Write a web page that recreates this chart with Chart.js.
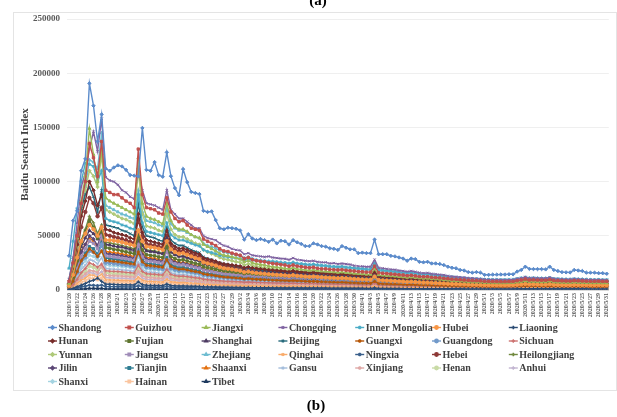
<!DOCTYPE html>
<html>
<head>
<meta charset="utf-8">
<script src="https://cdn.jsdelivr.net/npm/chart.js@4.4.1/dist/chart.umd.min.js"></script>
<style>
  html, body { margin: 0; padding: 0; background: #ffffff; }
  #wrap { position: relative; width: 617px; height: 417px; }
  canvas { display: block; }
</style>
</head>
<body>
<div id="wrap"><canvas id="chart" width="617" height="417"></canvas></div>
<script>
// Daily dates, 2020/1/20 to 2020/5/31
const dates = [
  '2020/1/20','2020/1/21','2020/1/22','2020/1/23','2020/1/24','2020/1/25','2020/1/26','2020/1/27','2020/1/28','2020/1/29','2020/1/30','2020/1/31',
  '2020/2/1','2020/2/2','2020/2/3','2020/2/4','2020/2/5','2020/2/6','2020/2/7','2020/2/8','2020/2/9','2020/2/10','2020/2/11','2020/2/12','2020/2/13','2020/2/14','2020/2/15','2020/2/16','2020/2/17','2020/2/18','2020/2/19','2020/2/20','2020/2/21','2020/2/22','2020/2/23','2020/2/24','2020/2/25','2020/2/26','2020/2/27','2020/2/28','2020/2/29',
  '2020/3/1','2020/3/2','2020/3/3','2020/3/4','2020/3/5','2020/3/6','2020/3/7','2020/3/8','2020/3/9','2020/3/10','2020/3/11','2020/3/12','2020/3/13','2020/3/14','2020/3/15','2020/3/16','2020/3/17','2020/3/18','2020/3/19','2020/3/20','2020/3/21','2020/3/22','2020/3/23','2020/3/24','2020/3/25','2020/3/26','2020/3/27','2020/3/28','2020/3/29','2020/3/30','2020/3/31',
  '2020/4/1','2020/4/2','2020/4/3','2020/4/4','2020/4/5','2020/4/6','2020/4/7','2020/4/8','2020/4/9','2020/4/10','2020/4/11','2020/4/12','2020/4/13','2020/4/14','2020/4/15','2020/4/16','2020/4/17','2020/4/18','2020/4/19','2020/4/20','2020/4/21','2020/4/22','2020/4/23','2020/4/24','2020/4/25','2020/4/26','2020/4/27','2020/4/28','2020/4/29','2020/4/30',
  '2020/5/1','2020/5/2','2020/5/3','2020/5/4','2020/5/5','2020/5/6','2020/5/7','2020/5/8','2020/5/9','2020/5/10','2020/5/11','2020/5/12','2020/5/13','2020/5/14','2020/5/15','2020/5/16','2020/5/17','2020/5/18','2020/5/19','2020/5/20','2020/5/21','2020/5/22','2020/5/23','2020/5/24','2020/5/25','2020/5/26','2020/5/27','2020/5/28','2020/5/29','2020/5/30','2020/5/31'
];

const yTicks = [0, 50000, 100000, 150000, 200000, 250000];

// Daily Baidu search index per province (one row per ten days)
const shandong = [
  31600,64000,73000,110000,121000,190600,170000,137000,162000,112000,
  110000,113000,115000,114000,110800,106000,105500,104800,149500,110800,
  110000,118000,106000,104500,127000,105000,94000,87500,111500,99500,
  90500,89500,88500,73000,72000,72500,64500,57000,56000,57500,
  57000,56500,55000,46500,51500,47500,46000,47000,46000,44500,
  46500,43000,45500,45000,42000,46000,44000,42500,40500,40500,
  43000,42000,40500,40000,38500,38000,37000,40500,39000,37500,
  37500,34000,34500,34000,34000,46500,33000,33000,33000,31500,
  31000,30000,29000,27000,29000,28500,26000,25500,26000,24500,
  24500,24000,23000,21500,20500,20000,18500,18000,16500,16000,
  16500,16000,14000,14000,14200,14200,14300,14300,14500,14500,
  17000,18500,21500,19500,19300,19300,19300,19000,21500,18500,
  17500,16500,16300,16200,18500,18000,17500,16000,16000,16000,
  15500,15500,15000
];
const guizhou = [
  8000,25000,50000,80000,100000,135000,122000,105000,137000,92000,
  90000,88000,88000,85000,82000,80000,76000,130000,88000,76000,
  75000,74000,71000,70000,85000,72000,66000,63000,64000,60000,
  57000,56000,55000,47000,45000,43000,41000,38000,36000,35500,
  34000,33000,32000,29000,30000,28000,27000,26500,26000,25000,
  24500,24000,23500,23000,22000,23000,22000,21500,21000,20500,
  21000,20000,19500,19500,19000,18800,18500,18800,18200,17800,
  17500,17000,16800,16500,16500,22000,16000,15500,15200,14800,
  14500,14000,13800,13200,13600,13000,12500,12200,12300,11800,
  11500,11200,10800,10400,10000,9800,9500,9200,8900,8700,
  8600,8400,8000,7900,7800,7800,7700,7700,7800,7900,
  8600,9200,10000,9200,9300,9100,9000,9000,9600,8800,
  8600,8400,8300,8200,8600,8400,8300,8100,8000,8000,
  8100,7900,8000
];
const jiangxi = [
  6000,22000,48000,82000,105000,149000,125000,100000,130000,85000,
  82000,80000,78000,76000,74000,72000,70000,122000,80000,68000,
  66000,65000,63000,61000,80000,64000,58000,56000,56000,54000,
  51000,49000,48000,42000,40000,38000,36000,33500,32000,31500,
  30500,29500,28500,26000,27000,25000,24000,23500,23000,22000,
  21500,21000,20500,20000,19500,20500,19500,19000,18500,18000,
  18500,17800,17400,17200,16800,16600,16200,16500,16000,15700,
  15300,15000,14800,14500,14400,19500,14000,13600,13300,13000,
  12700,12300,12000,11600,11900,11400,11000,10700,10800,10300,
  10000,9800,9400,9000,8700,8500,8200,8000,7700,7500,
  7400,7200,6900,6800,6700,6700,6600,6600,6700,6800,
  7400,7900,8500,7900,8000,7800,7700,7700,8200,7500,
  7300,7100,7000,6900,7200,7000,6900,6800,6700,6600,
  6700,6500,6500
];
const chongqing = [
  10000,30000,62000,95000,108000,130000,146000,128000,158000,104000,
  101000,100000,97000,92000,90000,86000,84000,110000,92000,80000,
  79000,78000,76000,74000,92000,74000,70000,66000,66000,63000,
  60000,57000,57000,50000,48000,47000,46000,43000,41000,40000,
  38000,37000,36500,33000,34000,32000,31500,31000,30500,31000,
  30000,29500,29000,28800,28000,29500,28000,27500,27000,26500,
  27000,26000,25500,25500,24500,24800,24000,24500,24000,23500,
  22500,22000,21800,21500,21500,28000,20500,20000,19500,19000,
  18800,18000,17500,17000,17500,16800,16000,15500,15800,15000,
  14500,14200,13800,13000,12500,12200,11800,11500,11000,10800,
  10500,10200,9800,9600,9500,9500,9400,9300,9400,9500,
  10500,11000,12000,11000,11200,11000,10800,10800,11500,10500,
  10200,10000,9800,9700,10200,10000,9800,9600,9500,9400,
  9500,9300,9200
];
const innerMongolia = [
  20000,45000,75000,100000,117000,116000,114000,100000,110000,66000,
  64000,63000,62000,60000,59000,57000,56000,88000,62000,54000,
  53000,52000,51000,50000,62000,51000,48000,46000,46000,44500,
  43000,41500,40500,37000,35500,34500,33500,32000,31000,30500,
  30000,29500,29000,27500,28500,27500,27000,26500,26200,26000,
  26000,25600,25300,25000,24500,25300,24500,24200,23800,23400,
  23800,23200,22800,22500,22000,21800,21400,21800,21200,20800,
  20400,20000,19700,19400,19300,25000,18800,18300,17900,17500,
  17100,16700,16300,15800,16200,15600,15100,14700,14800,14200,
  13800,13400,13000,12500,12100,11800,11400,11100,10800,10500,
  10300,10100,9800,9700,9600,9600,9500,9500,9600,9700,
  10400,11000,11600,11000,11100,10900,10800,10800,11300,10400,
  10200,10000,9900,9800,10200,10000,9900,9700,9600,9500,
  9600,9400,9400
];
const hubei = [
  4000,14000,30000,45000,52000,60000,56000,50000,58000,46000,
  46000,45500,45000,44000,43000,42000,41000,55000,45000,40000,
  39500,39000,38000,37000,45000,37500,35000,33500,34000,32500,
  31000,29500,28500,25500,24500,23500,22500,21000,20000,19500,
  19000,18300,17800,16500,17000,16200,15700,15300,15000,14600,
  14300,14000,13800,13500,13100,13700,13100,12800,12500,12200,
  12500,12100,11800,11600,11300,11200,10900,11100,10800,10500,
  10200,10000,9800,9600,9500,12500,9200,8900,8700,8500,
  8300,8000,7800,7500,7700,7400,7100,6900,6900,6600,
  6400,6200,6000,5800,5600,5500,5300,5200,5000,4900,
  4800,4700,4500,4400,4400,4300,4300,4300,4400,4500,
  4900,5200,5600,5200,5300,5100,5000,5000,5400,4900,
  4800,4700,4600,4600,4800,4700,4600,4500,4400,4400,
  4500,4400,4400
];
const liaoning = [
  500,1500,3000,4500,6000,8000,9000,11000,8000,5400,
  5300,5200,5000,4900,4800,4700,4600,7500,5000,4400,
  4300,4200,4100,4000,5500,4200,3900,3700,3800,3600,
  3500,3400,3300,3000,2900,2800,2700,2600,2500,2500,
  2400,2400,2300,2200,2300,2200,2200,2100,2100,2100,
  2000,2000,2000,2000,1900,2000,1900,1900,1900,1800,
  1900,1800,1800,1800,1700,1700,1700,1700,1700,1600,
  1600,1600,1600,1500,1500,2000,1500,1500,1400,1400,
  1400,1400,1300,1300,1300,1300,1300,1200,1200,1200,
  1200,1200,1100,1100,1100,1100,1100,1000,1000,1000,
  1000,1000,1000,1000,1000,1000,1000,1000,1000,1000,
  1100,1200,1300,1200,1200,1200,1100,1100,1200,1100,
  1100,1100,1100,1100,1100,1100,1100,1100,1000,1000,
  1000,1000,1000
];
const hunan = [
  6000,20000,42000,68000,82000,100000,92000,78000,88000,56000,
  55000,53000,52000,51000,50000,48000,47000,70000,53000,46000,
  45000,44000,43000,42000,55000,43000,40000,38000,38500,37000,
  35500,34000,33000,29500,28500,27500,26500,25000,24000,23500,
  23000,22500,22000,20500,21200,20300,19800,19400,19000,18600,
  18300,18000,17700,17400,17000,17700,17000,16700,16400,16100,
  16400,15900,15600,15400,15000,14900,14500,14800,14400,14100,
  13800,13500,13300,13100,13000,17000,12700,12400,12100,11800,
  11500,11200,10900,10500,10800,10400,10000,9700,9800,9400,
  9100,8900,8600,8300,8000,7800,7600,7400,7200,7000,
  6900,6800,6500,6400,6400,6300,6300,6300,6400,6500,
  7000,7500,8100,7600,7700,7500,7400,7400,7800,7200,
  7000,6900,6800,6700,7000,6800,6700,6600,6500,6500,
  6600,6400,6400
];
const fujian = [
  4000,12000,27000,44000,54000,64000,58000,48000,55000,39000,
  38500,37500,37000,36000,35200,34300,33500,50000,37000,32500,
  32000,31500,30500,30000,40000,31000,29000,27500,28000,26800,
  25600,24600,23800,21500,20600,19900,19100,18300,17600,17200,
  16800,16400,16100,15100,15600,15000,14700,14400,14200,13900,
  13700,13500,13300,13100,12800,13300,12800,12500,12300,12000,
  12300,11900,11700,11500,11200,11100,10800,11000,10700,10500,
  10200,10000,9800,9700,9600,12300,9300,9000,8800,8600,
  8400,8200,8000,7700,7900,7600,7300,7100,7100,6800,
  6600,6500,6300,6100,5900,5800,5600,5500,5400,5300,
  5200,5100,4900,4900,4800,4800,4800,4800,4900,5000,
  5400,5800,6200,5800,5900,5700,5600,5600,6000,5500,
  5400,5300,5200,5100,5300,5200,5100,5000,5000,4900,
  5000,4900,4900
];
const shanghai = [
  5000,14000,28000,40000,48000,55000,52000,47000,58000,42000,
  41500,40500,40000,39500,38500,37500,36500,52000,41000,36000,
  35500,35000,34000,33500,48000,35000,32500,31000,31000,30000,
  28800,27800,27000,24500,23500,22700,21900,21000,20200,19800,
  19400,19000,18700,17600,18200,17500,17200,16900,16600,16400,
  16200,16000,15800,15600,15200,15900,15300,15000,14700,14400,
  14700,14300,14000,13800,13500,13400,13100,13400,13000,12700,
  12400,12200,12000,11800,11700,15000,11400,11100,10900,10700,
  10500,10200,10000,9700,9900,9600,9300,9100,9100,8800,
  8600,8400,8200,8000,7800,7600,7500,7300,7200,7000,
  6900,6800,6600,6500,6500,6400,6400,6500,6700,7000,
  8000,9000,10500,9800,10000,9700,9500,9400,10000,8800,
  8300,7900,7600,7400,7700,7400,7200,7000,6900,6800,
  6900,6700,6700
];
const beijing = [
  10000,28000,52000,75000,88000,95000,86000,72000,92000,60000,
  59000,58000,57000,55000,54000,52000,50000,80000,58000,50000,
  49000,48000,46000,45000,58000,46000,43000,41000,41000,39000,
  37000,35500,34500,30500,29000,28000,26500,25000,24000,23500,
  22800,22000,21500,19800,20500,19300,18600,18200,17800,17200,
  16800,16500,16200,15900,15400,16100,15400,15100,14700,14400,
  14700,14200,13900,13700,13300,13200,12800,13100,12700,12400,
  12100,11800,11600,11400,11300,15000,11000,10700,10400,10100,
  9900,9600,9300,9000,9300,8900,8600,8300,8400,8000,
  7800,7600,7300,7100,6800,6600,6400,6200,6000,5900,
  5800,5700,5400,5300,5300,5200,5200,5200,5300,5400,
  5900,6300,6800,6300,6400,6200,6100,6100,6500,6000,
  5800,5700,5600,5500,5800,5600,5500,5400,5300,5300,
  5400,5200,5200
];
const guangxi = [
  2500,8000,17000,27000,32000,38000,35000,31000,36000,27200,
  26800,26400,26000,25400,24900,24300,23800,35000,26000,22800,
  22400,22000,21500,21000,28000,21700,20200,19200,19400,18500,
  17700,17000,16400,14800,14200,13700,13100,12500,12000,11700,
  11400,11100,10900,10200,10600,10100,9900,9700,9500,9300,
  9100,9000,8800,8700,8500,8800,8500,8300,8100,7900,
  8100,7800,7600,7500,7300,7200,7000,7100,6900,6700,
  6600,6400,6300,6200,6100,8000,5900,5700,5600,5400,
  5300,5200,5000,4900,5000,4800,4600,4500,4500,4300,
  4200,4100,4000,3900,3800,3700,3600,3500,3400,3300,
  3300,3200,3100,3100,3000,3000,3000,3000,3100,3200,
  3400,3600,3900,3600,3700,3500,3500,3500,3700,3400,
  3300,3200,3200,3100,3300,3200,3100,3100,3000,3000,
  3100,3000,3000
];
const guangdong = [
  3000,8000,16000,25000,30000,36000,35000,31000,42000,25200,
  24800,24400,24000,23500,23000,22500,22000,34000,24000,21000,
  20700,20300,19800,19400,27000,20000,18700,17800,18000,17200,
  16500,15900,15300,13900,13400,12900,12400,11900,11500,11200,
  11000,10800,10600,10000,10400,10000,9800,9600,9500,9300,
  9200,9100,8900,8800,8600,9000,8600,8500,8300,8100,
  8300,8000,7900,7800,7600,7500,7300,7500,7200,7100,
  6900,6800,6700,6600,6500,8500,6300,6100,6000,5900,
  5800,5600,5500,5300,5400,5300,5100,5000,5000,4800,
  4700,4600,4500,4400,4300,4200,4100,4000,3900,3900,
  3800,3800,3700,3600,3600,3600,3600,3600,3700,3800,
  4100,4400,4700,4400,4500,4300,4300,4300,4600,4200,
  4100,4000,4000,3900,4100,4000,3900,3900,3800,3800,
  3900,3800,3800
];
const sichuan = [
  1500,5000,10000,16000,20000,25000,23500,21000,24000,17700,
  17400,17200,17000,16700,16300,16000,15600,23000,17000,15000,
  14700,14500,14100,13800,19000,14300,13300,12700,12800,12300,
  11800,11300,10900,9900,9500,9200,8800,8500,8200,8000,
  7900,7700,7600,7200,7400,7200,7000,6900,6800,6700,
  6600,6500,6400,6300,6200,6400,6200,6100,6000,5900,
  6000,5800,5700,5600,5500,5500,5300,5400,5300,5200,
  5100,5000,4900,4800,4800,6200,4600,4500,4400,4300,
  4200,4100,4000,3900,4000,3900,3800,3700,3700,3600,
  3500,3400,3400,3300,3200,3200,3100,3000,3000,2900,
  2900,2800,2800,2700,2700,2700,2700,2700,2800,2800,
  3100,3300,3500,3300,3400,3300,3200,3200,3400,3200,
  3100,3100,3000,3000,3100,3000,3000,3000,2900,2900,
  3000,2900,2900
];
const yunnan = [
  5000,18000,40000,70000,92000,110000,105000,95000,125000,74000,
  72000,70000,68000,66000,65000,63000,61000,112000,70000,59000,
  58000,57000,55000,54000,70000,56000,51000,49000,49000,47000,
  45000,43000,42000,37000,35000,33500,32000,30000,28500,28000,
  27000,26000,25500,23000,24000,22500,21500,21000,20500,19800,
  19300,18800,18400,18000,17500,18300,17400,17000,16500,16100,
  16500,15900,15500,15300,14900,14700,14300,14600,14100,13800,
  13400,13100,12900,12600,12500,17000,12100,11700,11400,11100,
  10800,10400,10100,9700,10000,9600,9200,8900,9000,8600,
  8300,8100,7800,7500,7200,7000,6800,6600,6300,6100,
  6000,5900,5600,5500,5400,5400,5300,5300,5400,5500,
  6000,6400,6900,6400,6500,6300,6200,6200,6600,6000,
  5900,5700,5600,5500,5800,5600,5500,5400,5300,5300,
  5400,5200,5200
];
const jiangsu = [
  3000,9000,20000,31000,38000,45000,43000,38000,50000,31500,
  31000,30500,30000,29400,28800,28200,27600,42000,30500,26800,
  26400,26000,25400,24900,36000,26000,24200,23200,23400,22500,
  21600,20800,20100,18300,17600,17000,16400,15700,15100,14800,
  14500,14200,13900,13100,13600,13100,12800,12600,12400,12200,
  12000,11900,11700,11600,11300,11800,11300,11100,10900,10700,
  11000,10600,10400,10300,10100,10000,9700,9900,9600,9400,
  9200,9000,8900,8700,8600,11200,8400,8200,8000,7800,
  7700,7500,7300,7100,7200,7000,6800,6600,6600,6400,
  6200,6100,5900,5800,5600,5500,5400,5300,5200,5100,
  5000,5000,4800,4800,4700,4700,4700,4700,4800,4900,
  5300,5700,6100,5700,5800,5600,5500,5500,5900,5400,
  5300,5200,5200,5100,5300,5200,5100,5100,5000,5000,
  5100,5000,5000
];
const zhejiang = [
  7000,20000,45000,75000,95000,120000,118000,112000,145000,78000,
  76000,74000,72000,70000,69000,67000,66000,92000,72000,64000,
  63000,62000,60000,59000,75000,61000,57000,55000,55000,53000,
  51000,49000,48000,43000,41000,40000,38500,36500,35000,34500,
  33500,32500,32000,29500,30500,29000,28000,27500,27000,26500,
  26500,26000,25500,25200,24500,25500,24500,24000,23500,23000,
  23500,22800,22300,22000,21500,21300,20800,21200,20600,20200,
  19800,19300,19000,18700,18600,24000,18000,17500,17100,16700,
  16300,15900,15500,15000,15400,14800,14300,14000,14100,13500,
  13100,12800,12400,12000,11600,11300,11000,10700,10400,10100,
  10000,9800,9500,9400,9300,9300,9200,9200,9300,9400,
  10200,10800,11500,10800,10900,10700,10600,10600,11200,10300,
  10100,9900,9800,9700,10100,9900,9800,9600,9500,9400,
  9500,9300,9300
];
const qinghai = [
  800,3000,6000,9000,11000,14000,13500,12000,14500,9500,
  9300,9100,9000,8800,8700,8500,8300,12000,9000,8000,
  7900,7700,7500,7400,10000,7600,7100,6800,6900,6600,
  6300,6100,5900,5400,5200,5000,4800,4600,4500,4400,
  4300,4200,4100,3900,4000,3900,3800,3700,3700,3600,
  3600,3500,3500,3400,3400,3500,3400,3300,3300,3200,
  3300,3200,3100,3100,3000,3000,2900,3000,2900,2800,
  2800,2700,2700,2700,2600,3400,2500,2500,2400,2400,
  2300,2300,2200,2200,2200,2100,2100,2000,2000,2000,
  1900,1900,1800,1800,1800,1700,1700,1700,1600,1600,
  1600,1600,1500,1500,1500,1500,1500,1500,1500,1500,
  1700,1800,1900,1800,1800,1800,1700,1700,1900,1700,
  1700,1700,1600,1600,1700,1600,1600,1600,1600,1600,
  1600,1500,1500
];
const ningxia = [
  300,1000,2000,3000,3500,4500,4300,4000,4500,3200,
  3100,3100,3000,3000,2900,2800,2800,4000,3000,2700,
  2600,2600,2500,2500,3300,2500,2400,2300,2300,2200,
  2100,2000,2000,1800,1800,1700,1700,1600,1500,1500,
  1500,1400,1400,1300,1400,1300,1300,1300,1200,1200,
  1200,1200,1200,1200,1100,1200,1100,1100,1100,1100,
  1100,1100,1000,1000,1000,1000,1000,1000,1000,1000,
  900,900,900,900,900,1200,900,900,800,800,
  800,800,800,800,800,800,700,700,700,700,
  700,700,700,700,600,600,600,600,600,600,
  600,600,600,600,600,600,600,600,600,600,
  700,700,800,700,700,700,700,700,700,700,
  700,700,600,600,700,600,600,600,600,600,
  600,600,600
];
const hebei = [
  5000,16000,35000,58000,72000,85000,80000,68000,76000,51000,
  50000,49000,48000,47000,46000,44500,43500,65000,49000,42500,
  41500,41000,40000,39000,50000,40000,37000,35500,36000,34500,
  33000,31500,30500,27500,26500,25500,24500,23500,22500,22000,
  21500,21000,20600,19300,20000,19200,18800,18400,18100,17800,
  17500,17300,17000,16800,16400,17100,16500,16200,16000,15700,
  16000,15600,15300,15100,14800,14700,14400,14700,14300,14000,
  13700,13500,13300,13100,13000,16500,12700,12400,12200,11900,
  11700,11400,11100,10800,11100,10700,10400,10100,10200,9800,
  9600,9400,9100,8900,8600,8400,8200,8000,7900,7700,
  7600,7500,7300,7200,7200,7100,7100,7100,7200,7300,
  7900,8400,9000,8500,8600,8400,8300,8300,8800,8100,
  8000,7900,7800,7700,8000,7900,7800,7700,7600,7700,
  8000,7900,8300
];
const heilongjiang = [
  3000,12000,28000,46000,56000,68000,62000,52000,60000,44000,
  43500,42500,42000,41000,40000,39000,38000,55000,42000,37000,
  36500,36000,35000,34000,44000,35000,32500,31000,31500,30000,
  28500,27500,26500,24000,23000,22000,21000,20000,19000,18600,
  18200,17700,17300,16200,16800,16100,15700,15400,15100,14800,
  14600,14300,14100,13900,13500,14100,13500,13200,12900,12600,
  12900,12500,12200,12000,11700,11600,11300,11500,11200,10900,
  10600,10400,10200,10000,9900,13000,9600,9300,9100,8900,
  8700,8400,8200,7900,8100,7800,7500,7300,7300,7000,
  6800,6600,6400,6200,6000,5800,5700,5500,5400,5200,
  5100,5000,4800,4700,4700,4600,4600,4600,4700,4800,
  5200,5600,6000,5600,5700,5500,5400,5400,5800,5300,
  5200,5100,5000,4900,5100,5000,4900,4800,4800,4700,
  4800,4700,4700
];
const jilin = [
  3000,10000,22000,35000,42000,50000,47000,41000,52000,33500,
  33000,32500,32000,31300,30600,29900,29200,46000,32500,28300,
  27900,27500,26800,26200,38000,27500,25500,24300,24600,23500,
  22400,21500,20800,18700,17900,17300,16600,15800,15200,14800,
  14400,14000,13700,12800,13300,12700,12400,12100,11900,11600,
  11400,11200,11000,10800,10500,11000,10500,10300,10100,9800,
  10100,9700,9500,9300,9100,9000,8700,8900,8600,8400,
  8200,8000,7800,7700,7600,9900,7300,7100,6900,6700,
  6500,6300,6100,5900,6000,5800,5500,5400,5400,5200,
  5000,4900,4700,4600,4400,4300,4200,4100,4000,3900,
  3800,3800,3600,3600,3500,3500,3500,3500,3600,3700,
  4000,4300,4600,4300,4400,4200,4100,4100,4400,4000,
  3900,3800,3800,3700,3900,3800,3700,3700,3600,3600,
  3700,3600,3600
];
const tianjin = [
  2500,8000,18000,28000,34000,40000,38000,33000,44000,29500,
  29000,28500,28000,27400,26800,26100,25500,38000,28000,24500,
  24100,23700,23100,22600,30000,23300,21700,20700,20900,20000,
  19100,18400,17700,16000,15300,14800,14200,13600,13000,12700,
  12400,12100,11800,11100,11500,11000,10800,10600,10400,10200,
  10000,9900,9700,9600,9300,9700,9300,9100,8900,8700,
  8900,8600,8400,8300,8100,8000,7800,7900,7700,7500,
  7300,7200,7000,6900,6800,8900,6600,6400,6300,6100,
  6000,5800,5700,5500,5600,5400,5200,5100,5100,4900,
  4800,4700,4500,4400,4300,4200,4100,4000,3900,3800,
  3800,3700,3600,3600,3500,3500,3500,3500,3600,3700,
  3900,4200,4500,4200,4300,4100,4000,4000,4300,3900,
  3800,3700,3700,3600,3800,3700,3600,3600,3500,3500,
  3600,3500,3500
];
const shaanxi = [
  3500,11000,24000,36000,42000,48000,45000,40000,46000,35500,
  35000,34500,34000,33200,32500,31700,31000,45000,34000,30000,
  29500,29000,28200,27600,36000,28500,26500,25300,25600,24500,
  23400,22500,21700,19600,18800,18100,17400,16600,16000,15600,
  15200,14800,14500,13600,14000,13500,13200,12900,12700,12400,
  12200,12000,11800,11600,11300,11800,11300,11100,10900,10600,
  10900,10500,10300,10100,9900,9800,9500,9700,9400,9200,
  9000,8800,8600,8500,8400,10800,8100,7900,7700,7500,
  7300,7100,6900,6700,6800,6600,6300,6100,6100,5900,
  5700,5600,5400,5200,5100,4900,4800,4700,4600,4500,
  4400,4300,4100,4100,4000,4000,4000,4000,4100,4200,
  4500,4800,5100,4800,4900,4700,4600,4600,5000,4500,
  4400,4300,4200,4200,4400,4300,4200,4100,4100,4000,
  4100,4000,4000
];
const gansu = [
  2000,6000,12000,19000,23000,28000,27000,24000,30000,19800,
  19500,19200,19000,18600,18200,17800,17400,26000,19000,16700,
  16400,16100,15700,15400,21000,15900,14800,14100,14300,13700,
  13100,12600,12100,11000,10600,10200,9800,9400,9100,8900,
  8700,8500,8300,7900,8200,7900,7700,7600,7500,7300,
  7200,7100,7000,6900,6800,7000,6800,6700,6600,6400,
  6500,6300,6200,6100,6000,5900,5800,5900,5700,5600,
  5500,5400,5300,5200,5200,6700,5000,4900,4800,4700,
  4600,4500,4400,4200,4300,4200,4100,4000,4000,3900,
  3800,3700,3600,3500,3400,3400,3300,3200,3100,3100,
  3000,3000,2900,2900,2900,2900,2900,2900,2900,3000,
  3200,3400,3700,3400,3500,3400,3300,3300,3600,3300,
  3200,3100,3100,3100,3200,3100,3100,3000,3000,3000,
  3000,2900,2900
];
const xinjiang = [
  1200,4000,8000,12000,15000,18000,17500,16000,22000,13500,
  13300,13200,13000,12800,12500,12200,12000,17500,13000,11500,
  11300,11100,10800,10600,14500,11000,10200,9700,9800,9400,
  9000,8700,8400,7700,7400,7100,6900,6600,6400,6300,
  6200,6100,6000,5700,5900,5700,5600,5500,5400,5300,
  5300,5200,5100,5100,5000,5200,5000,4900,4800,4700,
  4800,4700,4600,4500,4400,4400,4300,4400,4300,4200,
  4100,4000,4000,3900,3900,5000,3700,3600,3600,3500,
  3400,3400,3300,3200,3200,3100,3000,3000,3000,2900,
  2800,2800,2700,2700,2600,2600,2500,2500,2400,2400,
  2300,2300,2300,2200,2200,2200,2200,2200,2200,2300,
  2500,2700,2900,2700,2700,2600,2600,2600,2800,2600,
  2500,2500,2400,2400,2500,2400,2400,2400,2300,2300,
  2400,2300,2300
];
const henan = [
  1500,4500,9000,14000,17500,22000,21000,18500,21000,15600,
  15400,15200,15000,14700,14400,14100,13800,20000,15000,13200,
  13000,12800,12500,12200,16500,12600,11800,11200,11300,10900,
  10400,10000,9700,8800,8500,8200,7900,7600,7300,7200,
  7000,6900,6800,6500,6700,6500,6300,6200,6100,6000,
  5900,5900,5800,5700,5600,5800,5600,5500,5400,5300,
  5400,5300,5200,5100,5000,5000,4900,5000,4800,4700,
  4600,4600,4500,4400,4400,5600,4200,4100,4000,3900,
  3900,3800,3700,3600,3600,3500,3400,3400,3400,3300,
  3200,3100,3100,3000,2900,2900,2800,2800,2700,2700,
  2600,2600,2500,2500,2500,2500,2500,2500,2500,2600,
  2800,3000,3200,3000,3100,3000,2900,2900,3100,2900,
  2800,2800,2700,2700,2800,2700,2700,2700,2600,2600,
  2700,2600,2600
];
const anhui = [
  1000,3500,7000,10500,13000,16000,15500,14000,17000,11500,
  11300,11100,11000,10800,10600,10300,10100,15000,11000,9700,
  9600,9400,9200,9000,12300,9300,8700,8300,8400,8000,
  7700,7400,7100,6500,6300,6100,5900,5600,5400,5300,
  5200,5100,5000,4800,5000,4800,4700,4600,4500,4500,
  4400,4400,4300,4300,4200,4300,4200,4100,4000,4000,
  4000,3900,3900,3800,3700,3700,3600,3700,3600,3500,
  3500,3400,3400,3300,3300,4200,3200,3100,3000,3000,
  2900,2900,2800,2700,2800,2700,2600,2600,2600,2500,
  2400,2400,2300,2300,2200,2200,2200,2100,2100,2000,
  2000,2000,1900,1900,1900,1900,1900,1900,1900,2000,
  2100,2300,2500,2300,2300,2300,2200,2200,2400,2200,
  2200,2100,2100,2100,2200,2100,2100,2000,2000,2000,
  2000,2000,2000
];
const shanxi = [
  2000,6500,14000,22000,27000,32000,31000,28000,36000,23000,
  22600,22300,22000,21500,21100,20600,20200,31000,22000,19300,
  19000,18700,18200,17900,24000,18400,17200,16400,16600,15900,
  15200,14600,14100,12800,12300,11900,11400,10900,10500,10300,
  10100,9900,9700,9200,9500,9200,9000,8800,8700,8500,
  8400,8300,8200,8100,7900,8200,7900,7800,7600,7500,
  7600,7400,7200,7100,7000,6900,6700,6900,6700,6500,
  6400,6300,6200,6100,6000,7800,5800,5700,5600,5400,
  5300,5200,5100,4900,5000,4900,4700,4600,4600,4500,
  4400,4300,4200,4100,4000,3900,3800,3700,3600,3600,
  3500,3500,3400,3400,3300,3300,3300,3300,3400,3500,
  3800,4000,4300,4000,4100,4000,3900,3900,4200,3800,
  3700,3700,3600,3600,3700,3600,3600,3500,3500,3500,
  3500,3400,3400
];
const hainan = [
  600,2200,4500,7000,8500,11000,10500,9500,11000,7400,
  7300,7100,7000,6900,6800,6600,6500,9500,7000,6200,
  6100,6000,5900,5800,7800,5900,5500,5300,5300,5100,
  4900,4700,4600,4200,4000,3900,3800,3600,3500,3400,
  3300,3300,3200,3000,3100,3000,2900,2900,2800,2800,
  2800,2700,2700,2700,2600,2700,2600,2600,2500,2500,
  2500,2400,2400,2400,2300,2300,2300,2300,2200,2200,
  2200,2100,2100,2100,2000,2700,2000,1900,1900,1800,
  1800,1800,1700,1700,1700,1600,1600,1600,1600,1500,
  1500,1500,1400,1400,1400,1300,1300,1300,1300,1200,
  1200,1200,1200,1200,1200,1100,1100,1100,1200,1200,
  1300,1400,1500,1400,1400,1400,1300,1300,1400,1300,
  1300,1300,1300,1200,1300,1300,1200,1200,1200,1200,
  1200,1200,1200
];
const tibet = [
  200,400,700,1000,1200,1500,1500,1400,1500,1000,
  1000,950,900,900,900,850,850,1200,900,800,
  800,800,750,750,1000,750,700,700,700,650,
  650,600,600,550,550,550,500,500,500,480,
  480,470,460,450,460,450,440,440,430,430,
  420,420,420,410,410,420,410,400,400,400,
  400,390,390,380,380,380,370,380,370,360,
  360,360,350,350,350,480,350,340,340,340,
  330,330,330,320,330,320,320,310,310,310,
  300,300,300,300,290,290,290,290,280,280,
  280,280,280,280,280,280,280,280,280,280,
  300,320,340,320,320,320,310,310,330,310,
  300,300,300,300,300,300,300,300,300,300,
  300,300,300
];

const provinces = ['Shandong','Guizhou','Jiangxi','Chongqing','Inner Mongolia','Hubei','Liaoning',
  'Hunan','Fujian','Shanghai','Beijing','Guangxi','Guangdong','Sichuan',
  'Yunnan','Jiangsu','Zhejiang','Qinghai','Ningxia','Hebei','Heilongjiang',
  'Jilin','Tianjin','Shaanxi','Gansu','Xinjiang','Henan','Anhui',
  'Shanxi','Hainan','Tibet'];
const seriesValues = [shandong, guizhou, jiangxi, chongqing, innerMongolia, hubei, liaoning,
  hunan, fujian, shanghai, beijing, guangxi, guangdong, sichuan,
  yunnan, jiangsu, zhejiang, qinghai, ningxia, hebei, heilongjiang,
  jilin, tianjin, shaanxi, gansu, xinjiang, henan, anhui,
  shanxi, hainan, tibet];
const seriesColors = ['#5B8BCB','#C0504D','#9BBB59','#8064A2','#4BACC6','#F79646','#2C4D75',
  '#772C2A','#5F7530','#4D3B62','#276A7C','#B65708','#729ACA','#CD7371',
  '#AFC97A','#A08DB8','#6FBDD1','#F9AB6B','#3A5F8B','#8C3836','#71893F',
  '#5C4776','#2F7D92','#E3700F','#A4BDDB','#DFA8A6','#C9DBA6','#C2B5D1',
  '#A5D4E2','#FAC5A0','#1F3A5F'];
const markerStyles = ['rectRot','rect','triangle','crossRot','star','circle','cross'];

const serif = "'Liberation Serif', 'Times New Roman', serif";
const greyText = '#595959';

const datasets = provinces.map((name, i) => ({
  label: name,
  data: seriesValues[i],
  borderColor: seriesColors[i],
  backgroundColor: seriesColors[i],
  borderWidth: 1.4,
  pointStyle: markerStyles[i % markerStyles.length],
  pointRadius: 1.7,
  pointBorderWidth: 1,
  pointBorderColor: seriesColors[i],
  pointBackgroundColor: seriesColors[i],
  pointHoverRadius: 0,
  tension: 0,
  fill: false
}));

// Frame, captions and the fixed-grid legend underneath the axis
const decorPlugin = {
  id: 'decor',
  beforeDraw(chart) {
    const ctx = chart.ctx;
    ctx.save();
    ctx.fillStyle = '#ffffff';
    ctx.fillRect(0, 0, chart.width, chart.height);
    ctx.strokeStyle = '#e4e4e4';
    ctx.lineWidth = 1;
    ctx.strokeRect(13.5, 12.5, 603, 378);
    ctx.restore();
  },
  afterDraw(chart) {
    const ctx = chart.ctx;
    ctx.save();
    ctx.fillStyle = '#000000';
    ctx.font = 'bold 15px ' + serif;
    ctx.textAlign = 'center';
    ctx.textBaseline = 'alphabetic';
    ctx.fillText('(a)', 318, 5);
    ctx.fillText('(b)', 316, 410);

    const colW = 76.8, rowH = 13.5, x0 = 48, y0 = 327.5;
    ctx.font = 'bold 10px ' + serif;
    ctx.textAlign = 'left';
    ctx.textBaseline = 'middle';
    provinces.forEach((name, i) => {
      const col = i % 7, row = Math.floor(i / 7);
      const x = x0 + col * colW, y = y0 + row * rowH;
      ctx.strokeStyle = seriesColors[i];
      ctx.lineWidth = 1.4;
      ctx.beginPath();
      ctx.moveTo(x, y);
      ctx.lineTo(x + 9, y);
      ctx.stroke();
      ctx.fillStyle = seriesColors[i];
      Chart.helpers.drawPoint(ctx, {
        pointStyle: markerStyles[i % markerStyles.length],
        radius: 1.7, borderWidth: 1, rotation: 0
      }, x + 4.5, y);
      ctx.fillStyle = '#404040';
      ctx.fillText(name, x + 10.5, y + 0.5);
    });
    ctx.restore();
  }
};

new Chart(document.getElementById('chart'), {
  type: 'line',
  data: { labels: dates, datasets: datasets },
  plugins: [decorPlugin],
  options: {
    responsive: false,
    animation: false,
    devicePixelRatio: 1,
    events: [],
    layout: { padding: { left: 19, right: 5, top: 19, bottom: 97 } },
    plugins: {
      legend: { display: false },
      tooltip: { enabled: false },
      title: { display: false }
    },
    scales: {
      x: {
        type: 'category',
        offset: true,
        grid: { display: false, drawTicks: false },
        border: { display: true, color: '#d9d9d9', width: 1 },
        ticks: {
          autoSkip: false,
          maxRotation: 90,
          minRotation: 90,
          padding: 3,
          color: greyText,
          font: { family: serif, size: 6, weight: 'bold' },
          callback: function (value, index) {
            return index % 2 === 0 ? this.getLabelForValue(value) : '';
          }
        },
        afterFit(scale) { scale.height = 30; }
      },
      y: {
        min: 0,
        max: 250000,
        afterBuildTicks(scale) { scale.ticks = yTicks.map(v => ({ value: v })); },
        grid: { color: '#efefef', lineWidth: 1, drawTicks: false },
        border: { display: false },
        ticks: {
          padding: 7,
          color: greyText,
          font: { family: serif, size: 9, weight: 'bold' },
          callback: (v) => String(v)
        },
        title: {
          display: true,
          text: 'Baidu Search Index',
          color: '#404040',
          padding: { top: 0, bottom: 0 },
          font: { family: serif, size: 11, weight: 'bold' }
        },
        afterFit(scale) { scale.width = 48; }
      }
    }
  }
});
</script>
</body>
</html>
